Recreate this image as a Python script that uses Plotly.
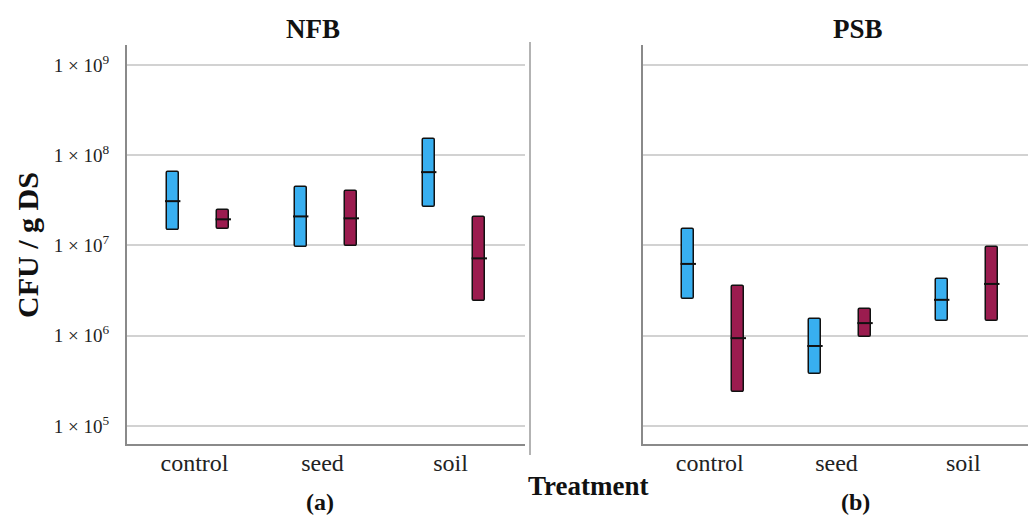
import plotly.graph_objects as go

categories = ["control", "seed", "soil"]

# NFB panel (a): low / median / high, CFU per g DS
nfb_blue_low = [1.47e7, 9.6e6, 2.7e7]
nfb_blue_med = [3.1e7, 2.1e7, 6.5e7]
nfb_blue_high = [6.5e7, 4.5e7, 1.5e8]
nfb_red_low = [1.53e7, 9.8e6, 2.45e6]
nfb_red_med = [1.95e7, 2.0e7, 7.2e6]
nfb_red_high = [2.5e7, 4.0e7, 2.07e7]

# PSB panel (b)
psb_blue_low = [2.56e6, 3.8e5, 1.44e6]
psb_blue_med = [6.25e6, 7.7e5, 2.5e6]
psb_blue_high = [1.53e7, 1.53e6, 4.2e6]
psb_red_low = [2.4e5, 9.8e5, 1.47e6]
psb_red_med = [9.4e5, 1.38e6, 3.75e6]
psb_red_high = [3.6e6, 1.98e6, 9.6e6]

ytick_vals = [1e5, 1e6, 1e7, 1e8, 1e9]
ytick_text = ["1 × 10<sup>5</sup>", "1 × 10<sup>6</sup>", "1 × 10<sup>7</sup>",
              "1 × 10<sup>8</sup>", "1 × 10<sup>9</sup>"]

BLUE = "#38aff0"
RED = "#9b1c4f"
SERIF = "Liberation Serif"
W, H = 1028, 516

fig = go.Figure()

def add_panel(xa, ya, b_lo, b_md, b_hi, r_lo, r_md, r_hi):
    idx = list(range(len(categories)))
    for lo, md, hi, off, col in [(b_lo, b_md, b_hi, -0.17, BLUE),
                                 (r_lo, r_md, r_hi, 0.225, RED)]:
        xs = [i + off for i in idx]
        fig.add_trace(go.Bar(
            x=xs, y=[h - l for h, l in zip(hi, lo)], base=lo,
            width=0.095, marker=dict(color=col, line=dict(color="#111111", width=1.5),
                                     cornerradius=2),
            xaxis=xa, yaxis=ya, showlegend=False, hoverinfo="skip"))
        fig.add_trace(go.Scatter(
            x=xs, y=md, mode="markers",
            marker=dict(symbol="line-ew", size=11, line=dict(color="#111111", width=2)),
            xaxis=xa, yaxis=ya, showlegend=False, hoverinfo="skip"))

add_panel("x", "y", nfb_blue_low, nfb_blue_med, nfb_blue_high,
          nfb_red_low, nfb_red_med, nfb_red_high)
add_panel("x2", "y2", psb_blue_low, psb_blue_med, psb_blue_high,
          psb_red_low, psb_red_med, psb_red_high)

ydom = [1 - 444 / H, 1 - 45 / H]
yrange = [4.8, 9.222]

common_x = dict(tickmode="array", tickvals=[0, 1, 2], ticktext=categories,
                showgrid=False, zeroline=False, showline=True, linecolor="#8a8a8a",
                linewidth=2, ticks="", ticklabelstandoff=-4,
                tickfont=dict(family=SERIF, size=24, color="#222222"))
common_y = dict(type="log", range=yrange, domain=ydom, tickmode="array",
                tickvals=ytick_vals, ticktext=ytick_text, showgrid=True,
                gridcolor="#d2d2d2", gridwidth=2, zeroline=False, showline=True,
                linecolor="#8a8a8a", linewidth=2)

fig.update_layout(
    width=W, height=H, margin=dict(l=0, r=0, t=0, b=0),
    paper_bgcolor="white", plot_bgcolor="white", bargap=0,
    xaxis=dict(domain=[127 / W, 525 / W], range=[-0.527, 2.582], anchor="y", **common_x),
    xaxis2=dict(domain=[643 / W, 1.0], range=[-0.527, 2.511], anchor="y2", **common_x),
    yaxis=dict(anchor="x", ticks="outside", ticklen=12, tickcolor="rgba(0,0,0,0)",
               tickfont=dict(family=SERIF, size=19, color="#222222"), **common_y),
    yaxis2=dict(anchor="x2", showticklabels=False, ticks="", **common_y),
)

fig.add_shape(type="line", xref="paper", yref="paper",
              x0=530 / W, x1=530 / W, y0=1 - 455 / H, y1=1 - 42 / H,
              line=dict(color="#9a9a9a", width=1.5))

def ann(text, x, y, size, angle=0):
    fig.add_annotation(text=text, xref="paper", yref="paper", x=x / W, y=1 - y / H,
                       showarrow=False, textangle=angle, xanchor="center", yanchor="middle",
                       font=dict(family=SERIF, size=size, color="#111111"))

ann("<b>NFB</b>", 313, 29, 27)
ann("<b>PSB</b>", 858, 29, 27)
ann("<b>CFU / g DS</b>", 28, 245, 30, angle=-90)
ann("<b>Treatment</b>", 588, 486, 27)
ann("<b>(a)</b>", 320, 502, 24)
ann("<b>(b)</b>", 855, 502, 24)

fig.write_html("out.html", config={"displayModeBar": False},
               post_script="document.body.style.margin='0';document.body.style.overflow='hidden';")
